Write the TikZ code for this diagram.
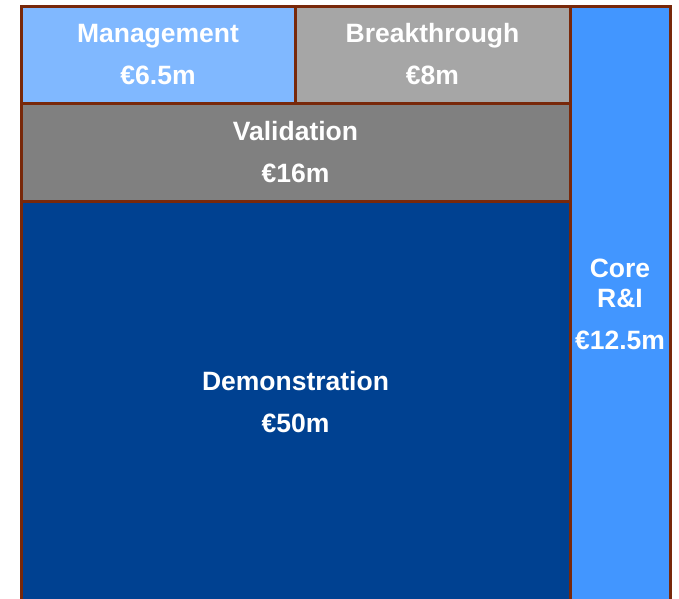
\documentclass[tikz,border=0pt]{standalone}
\usepackage{fontspec}
\setmainfont{Liberation Sans}
\usepackage{tikz}
\definecolor{edge}{RGB}{120,40,10}
\definecolor{mgmt}{RGB}{128,184,255}
\definecolor{brk}{RGB}{166,166,166}
\definecolor{valid}{RGB}{128,128,128}
\definecolor{demo}{RGB}{0,65,145}
\definecolor{core}{RGB}{66,150,255}
\begin{document}
\begin{tikzpicture}[x=1pt,y=-1pt,
  budget/.style={draw=edge,line width=3pt,rectangle,anchor=north west,inner sep=0pt,outer sep=0pt,
    align=center,text=white,font=\fontsize{26.5}{30}\selectfont\bfseries}]
\useasboundingbox (0,0) rectangle (679,598);
\node [budget,fill=demo,minimum width=549pt,minimum height=402pt] (demo) at(21,201){Demonstration\\[12pt]€50m};
\node [budget,fill=valid,minimum width=549pt,minimum height=98pt] (valid) at(21,103){Validation\\[12pt]€16m};
\node [budget,fill=mgmt,minimum width=274pt,minimum height=97pt] (mgmt) at(21,6){Management\\[12pt]€6.5m};
\node [budget,fill=brk,minimum width=275pt,minimum height=97pt] (brk) at(295,6){Breakthrough\\[12pt]€8m};
\node [budget,fill=core,minimum width=100pt,minimum height=597pt] (core) at(570,6){Core\\R\&I\\[12pt]€12.5m};
\end{tikzpicture}
\end{document}
